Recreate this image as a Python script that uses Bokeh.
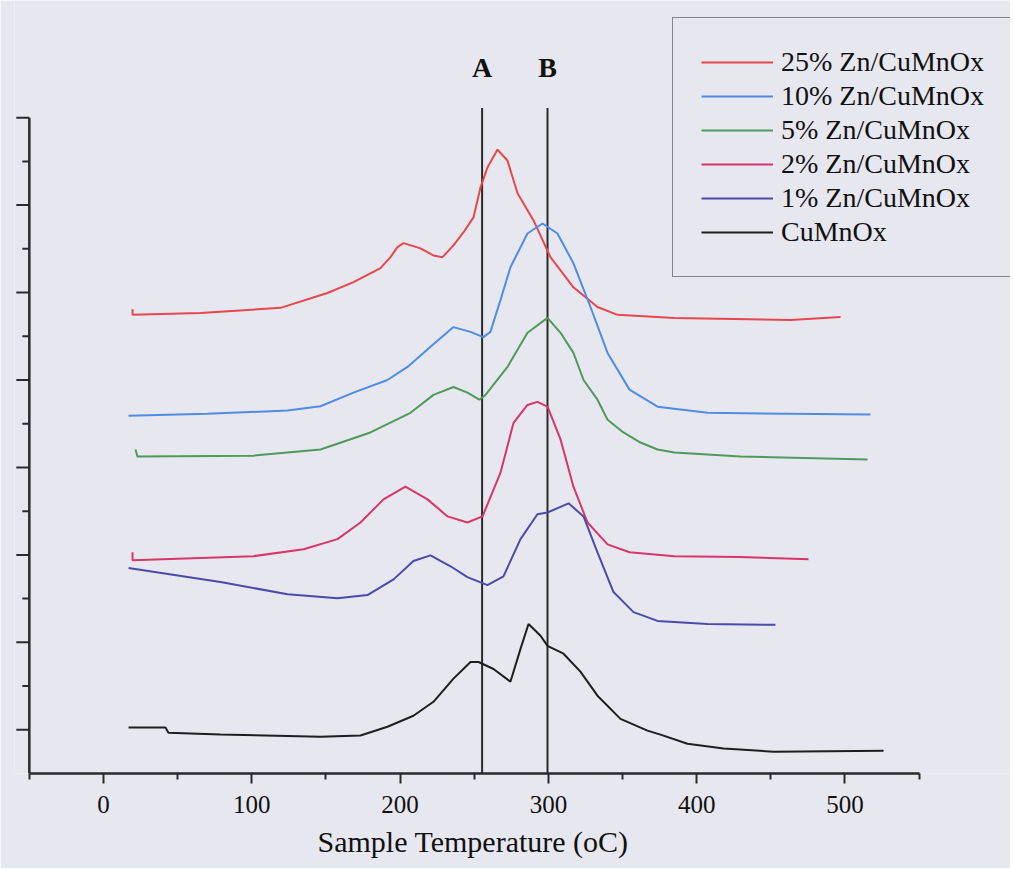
from bokeh.plotting import figure
from bokeh.models import FixedTicker, Legend, LegendItem, Title
from bokeh.core.properties import value
from bokeh.embed import file_html
from bokeh.resources import INLINE

# ---------------- data ----------------
series_names = ["25% Zn/CuMnOx", "10% Zn/CuMnOx", "5% Zn/CuMnOx",
                "2% Zn/CuMnOx", "1% Zn/CuMnOx", "CuMnOx"]
series_colors = ["#e5474a", "#4f8ce3", "#4f9a5a", "#d8356a", "#4c4aa8", "#1e1e1e"]

zn25_t = [19.6, 19.6, 65.4, 119.4, 151.0, 168.6, 186.8, 193.5, 198.2, 202.3, 213.8, 222.5,
          228.6, 236.0, 242.8, 249.5, 254.2, 258.9, 265.7, 272.4, 279.2, 290.0, 301.4,
          316.9, 333.1, 346.6, 385.0, 463.3, 497.0]
zn25_s = [106.2, 104.9, 105.3, 106.5, 109.9, 112.4, 115.6, 118.1, 120.4, 121.3, 120.1, 118.5,
          118.1, 120.8, 123.8, 127.2, 134.0, 138.6, 142.7, 140.2, 132.7, 126.5, 118.1,
          111.2, 106.7, 104.9, 104.2, 103.7, 104.4]

zn10_t = [16.9, 70.0, 124.1, 146.3, 168.6, 191.5, 205.0, 220.5, 236.0, 247.5, 256.2, 260.9,
          267.7, 274.4, 285.9, 296.0, 306.1, 316.9, 328.4, 339.9, 354.7, 373.6, 407.3, 517.2]
zn10_s = [81.8, 82.3, 83.0, 84.0, 87.1, 90.0, 93.0, 97.6, 102.1, 101.0, 99.8, 101.0,
          108.3, 115.8, 123.5, 125.8, 123.5, 116.7, 106.7, 96.2, 87.8, 83.9, 82.5, 82.1]

zn5_t = [21.6, 22.9, 101.1, 146.3, 180.0, 207.0, 222.5, 236.0, 245.4, 253.5, 257.6, 272.4,
         285.9, 299.4, 308.2, 316.9, 323.7, 333.1, 339.9, 350.6, 362.1, 373.6, 385.0, 429.5, 515.2]
zn5_s = [74.1, 72.5, 72.7, 74.1, 78.0, 82.5, 86.6, 88.4, 87.1, 85.5, 86.6, 93.0,
         100.8, 104.2, 100.8, 96.2, 90.0, 85.5, 80.9, 78.0, 75.7, 74.1, 73.4, 72.5, 71.8]

zn2_t = [19.6, 19.6, 101.1, 134.9, 157.8, 173.3, 188.8, 203.6, 218.5, 232.0, 245.4, 255.6,
         267.7, 276.5, 285.9, 292.6, 299.4, 308.2, 316.9, 326.4, 339.9, 354.7, 385.0, 429.5, 475.4]
zn2_s = [50.6, 48.8, 49.7, 51.3, 53.6, 57.4, 62.7, 65.6, 62.7, 58.8, 57.4, 58.8,
         68.8, 80.2, 84.3, 85.0, 83.9, 76.4, 65.6, 57.4, 52.4, 50.6, 49.7, 49.5, 49.0]

zn1_t = [16.9, 78.9, 124.1, 157.8, 178.0, 195.6, 209.0, 220.5, 234.0, 245.4, 258.9, 269.7,
         281.2, 292.6, 299.4, 313.6, 323.7, 333.1, 343.9, 357.4, 373.6, 407.3, 453.1]
zn1_s = [47.0, 43.8, 41.0, 40.1, 40.8, 44.4, 48.6, 49.9, 47.4, 44.9, 43.1, 45.1,
         53.6, 59.3, 59.7, 61.8, 58.8, 50.6, 41.5, 36.9, 34.9, 34.2, 34.0]

cu_t = [16.9, 41.8, 43.8, 78.9, 146.3, 173.3, 191.5, 209.0, 222.5, 236.0, 247.5, 252.9,
        263.0, 274.4, 281.2, 286.6, 294.7, 299.4, 310.2, 321.6, 333.1, 348.6, 366.8,
        375.6, 393.8, 418.1, 451.8, 526.0]
cu_s = [10.5, 10.5, 9.3, 8.9, 8.4, 8.7, 10.7, 13.2, 16.4, 21.7, 25.5, 25.5,
        23.9, 21.0, 28.5, 34.2, 31.5, 29.2, 27.4, 23.3, 17.8, 12.5, 9.8,
        8.9, 6.8, 5.7, 5.0, 5.2]

marker_names = ["A", "B"]
marker_temps = [255.3, 299.4]
marker_top = 152.2
marker_label_y = 161.5

x_major = [0, 100, 200, 300, 400, 500]
x_minor = [-50, 50, 150, 250, 350, 450, 550]
x_axis_span = (-50, 550)
y_major = [10, 30, 50, 70, 90, 110, 130, 150]
y_minor = [20, 40, 60, 80, 100, 120, 140]
y_axis_span = (0, 150)

x_label = "Sample Temperature (oC)"

# ---------------- figure ----------------
BG = "#e7e7f0"
SERIF = "Liberation Serif"
AX = "#2a2a2a"
PX_PER_X = 1.483          # screen pixels per degree
MAJ_LEN, MIN_LEN = 13, 7  # y tick lengths in pixels

p = figure(width=1010, height=868, x_range=(-60.0, 611.6), y_range=(0, 176.8),
           output_backend="svg", toolbar_location=None,
           min_border_left=14, min_border_right=0, min_border_top=0,
           min_border_bottom=95)
p.background_fill_color = BG
p.border_fill_color = BG
p.outline_line_color = None
p.xgrid.visible = False
p.ygrid.visible = False
p.yaxis.visible = False

# x axis
xa = p.xaxis[0]
xa.ticker = FixedTicker(ticks=x_major, minor_ticks=x_minor)
xa.bounds = x_axis_span
xa.axis_line_width = 2.5
xa.axis_line_color = AX
xa.major_tick_line_color = AX
xa.major_tick_line_width = 2
xa.major_tick_out = 10
xa.major_tick_in = 0
xa.minor_tick_line_color = AX
xa.minor_tick_line_width = 2
xa.minor_tick_out = 6
xa.minor_tick_in = 0
xa.major_label_text_font = SERIF
xa.major_label_text_font_size = "25px"
xa.major_label_text_color = "#111111"
xa.major_label_standoff = 12

# x axis title (placed below, starting under the drawn axis span)
p.add_layout(Title(text=x_label, align="left", offset=303, vertical_align="top",
                   standoff=18, text_font=SERIF, text_font_size="30px",
                   text_font_style="normal", text_color="#111111"), "below")

# y axis drawn as glyphs (ticks only, no labels)
y0 = x_axis_span[0]
p.segment(x0=[y0], y0=[y_axis_span[0]], x1=[y0], y1=[y_axis_span[1]],
          line_color=AX, line_width=2.5)
p.segment(x0=[y0] * len(y_major), y0=y_major,
          x1=[y0 - MAJ_LEN / PX_PER_X] * len(y_major), y1=y_major,
          line_color=AX, line_width=2)
p.segment(x0=[y0] * len(y_minor), y0=y_minor,
          x1=[y0 - MIN_LEN / PX_PER_X] * len(y_minor), y1=y_minor,
          line_color=AX, line_width=2)

# marker lines A and B
p.segment(x0=marker_temps, y0=[0] * len(marker_temps),
          x1=marker_temps, y1=[marker_top] * len(marker_temps),
          line_color="#2a2a2a", line_width=2)
p.text(x=marker_temps, y=[marker_label_y] * len(marker_temps), text=marker_names,
       text_font=value(SERIF), text_font_size="28px", text_font_style="bold",
       text_align="center", text_baseline="middle", text_color="#111111")

# curves
series = [(zn25_t, zn25_s), (zn10_t, zn10_s), (zn5_t, zn5_s),
          (zn2_t, zn2_s), (zn1_t, zn1_s), (cu_t, cu_s)]
items = []
for name, col, (t, s) in zip(series_names, series_colors, series):
    r = p.line(t, s, line_color=col, line_width=2)
    items.append(LegendItem(label=name, renderers=[r]))

legend = Legend(items=items, location=(658, 496),
                label_text_font=SERIF, label_text_font_size="28px",
                label_text_color="#111111",
                glyph_width=72, glyph_height=20, label_height=20,
                label_standoff=8, spacing=2, padding=28, margin=0,
                border_line_color="#222222", border_line_width=1.5,
                background_fill_color=BG, background_fill_alpha=1.0)
p.add_layout(legend, "center")

open("out.html", "w").write(file_html(p, INLINE))
